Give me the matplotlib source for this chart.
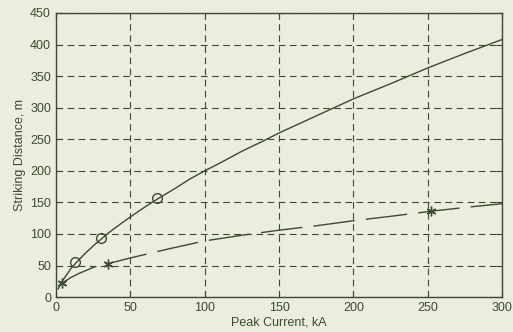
import matplotlib
matplotlib.use("Agg")
import matplotlib.pyplot as plt

# Solid curve
solid_x = [1.5, 3, 5, 8, 10, 13, 15, 20, 25, 30, 35, 40, 50, 60, 68, 80, 90, 100, 110, 125, 140, 150, 175, 200, 225, 250, 275, 300]
solid_y = [13, 20, 28, 38, 45, 53, 58, 70, 81, 91, 101, 110, 127, 143, 155, 172, 187, 200, 212, 231, 248, 260, 287, 314, 338, 363, 386, 408]
circle_x = [13, 30, 68]
circle_y = [56, 93, 157]

# Dashed curve
dash_x = [2, 4, 6, 10, 15, 20, 25, 30, 35, 50, 75, 100, 125, 150, 175, 200, 225, 252, 275, 300]
dash_y = [17, 22, 25, 31, 37, 42, 47, 50, 53, 62, 76, 89, 98, 106, 113, 121, 128, 136, 142, 148]
star_x = [4, 35, 252]
star_y = [22, 53, 137]

xticks = [0, 50, 100, 150, 200, 250, 300]
yticks = [0, 50, 100, 150, 200, 250, 300, 350, 400, 450]

bg = "#eceedd"
ink = "#3b4a33"

plt.rcParams['font.family'] = ['Liberation Sans', 'DejaVu Sans']
fig = plt.figure(figsize=(5.13, 3.32), dpi=100, facecolor=bg)
ax = fig.add_axes([0.109, 0.105, 0.870, 0.856], facecolor=bg)

ax.plot(solid_x, solid_y, color=ink, lw=1.0)
ax.plot(circle_x, circle_y, ls='none', marker='o', ms=7, mfc='none', mec=ink, mew=1.0)
ax.plot(dash_x, dash_y, color=ink, lw=1.0, dashes=(30, 8))
ax.plot(star_x, star_y, ls='none', marker=(6, 2, 0), ms=7, color=ink, mew=1.0)

ax.set_xlim(0, 300)
ax.set_ylim(0, 450)
ax.set_xticks(xticks)
ax.set_yticks(yticks)
ax.tick_params(direction='in', length=4, color=ink, labelcolor=ink, labelsize=9, top=True, right=True)
ax.grid(True, color=ink, ls=(0, (6, 4)), lw=0.8)
for s in ax.spines.values():
    s.set_color(ink)
    s.set_linewidth(1.0)
ax.set_xlabel("Peak Current, kA", color=ink, fontsize=9, labelpad=2)
ax.set_ylabel("Striking Distance, m", color=ink, fontsize=9, labelpad=3)

fig.savefig("out.png", dpi=100, facecolor=bg)
